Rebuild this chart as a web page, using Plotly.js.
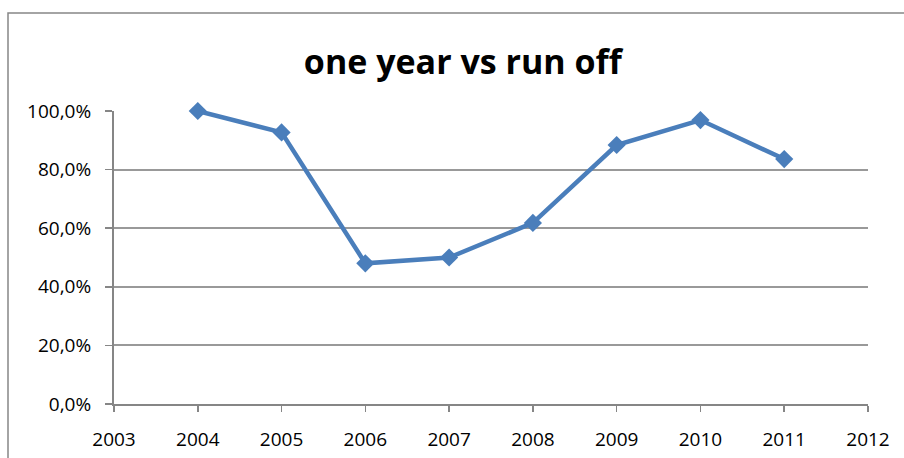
<!DOCTYPE html>
<html>
<head>
<meta charset="utf-8">
<script src="https://cdn.plot.ly/plotly-3.0.1.min.js"></script>
<style>html,body{margin:0;padding:0;background:#fff;}#chart{width:904px;height:458px;}</style>
</head>
<body>
<div id="chart"></div>
<script>
const years = [2004, 2005, 2006, 2007, 2008, 2009, 2010, 2011];
const ratio = [1.0, 0.927, 0.480, 0.500, 0.618, 0.884, 0.969, 0.836];
const chartTitle = "one year vs run off";

const trace = {
  x: years, y: ratio, type: 'scatter', mode: 'lines+markers',
  line: {color: '#4A7EBB', width: 4.5},
  marker: {symbol: 'diamond', size: 14, color: '#4A7EBB'},
  cliponaxis: false,
  hoverinfo: 'x+y'
};

const layout = {
  width: 904, height: 458,
  margin: {l: 114, r: 36, t: 111, b: 54},
  paper_bgcolor: '#ffffff', plot_bgcolor: '#ffffff',
  separators: ',.',
  showlegend: false,
  font: {family: 'Open Sans, Liberation Sans, sans-serif', color: '#000000', size: 19},
  title: {text: '<b>' + chartTitle + '</b>', font: {size: 34, family: 'Open Sans, sans-serif', color: '#000'},
          x: 0.512, xanchor: 'center', y: 0.865, yanchor: 'middle'},
  xaxis: {range: [2003, 2012], dtick: 1, tick0: 2003, showgrid: false, zeroline: false,
          showline: true, linecolor: '#868686', linewidth: 2,
          ticks: 'outside', ticklen: 6, tickcolor: '#868686', tickwidth: 1.5,
          tickfont: {size: 19}, ticklabelstandoff: 11},
  yaxis: {range: [0, 1], dtick: 0.2, tick0: 0, tickformat: '.1%', showgrid: true,
          gridcolor: '#999999', gridwidth: 2, zeroline: false,
          showline: true, linecolor: '#868686', linewidth: 2,
          ticks: 'outside', ticklen: 7, tickcolor: '#868686', tickwidth: 1.5,
          tickfont: {size: 19}, ticklabelstandoff: 10},
  shapes: [{type: 'rect', xref: 'paper', yref: 'paper',
            x0: (8 - 114) / 754, x1: (1100 - 114) / 754,
            y0: (404 - 600) / 293, y1: (404 - 13) / 293,
            line: {color: '#868686', width: 1.5}, fillcolor: 'rgba(0,0,0,0)', layer: 'below'}]
};

Plotly.newPlot('chart', [trace], layout, {displayModeBar: false, staticPlot: true});
</script>
</body>
</html>
